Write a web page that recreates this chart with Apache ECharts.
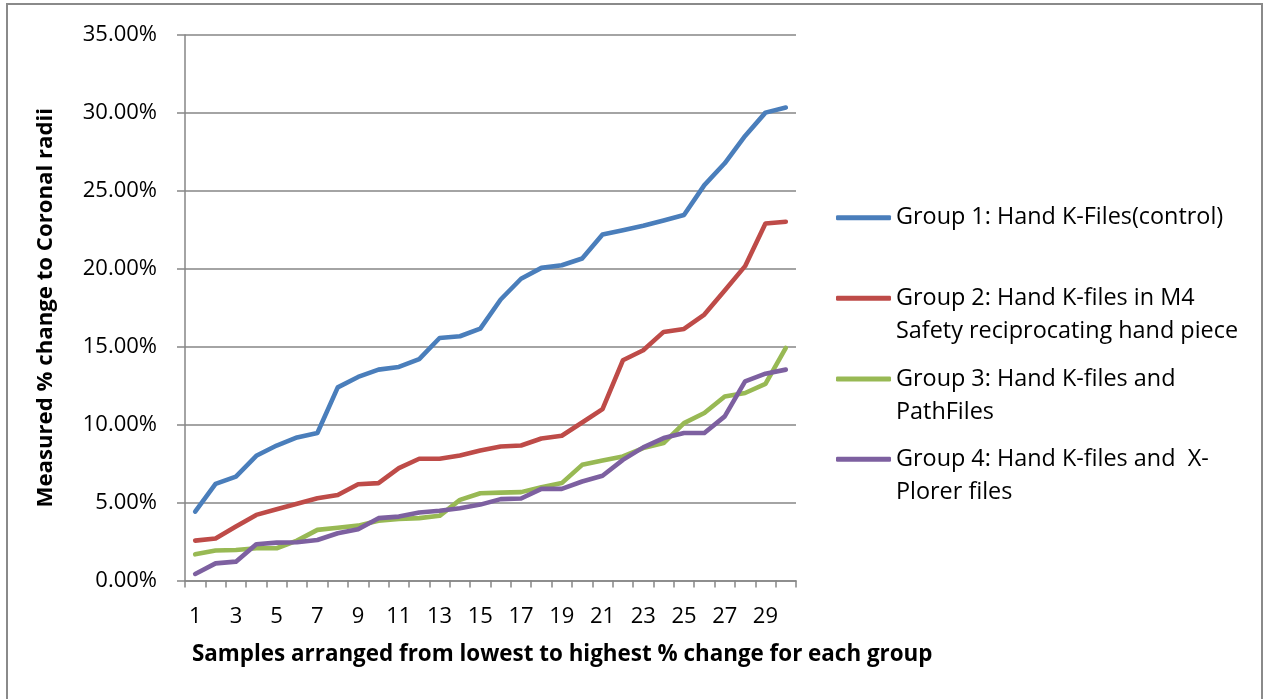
<!DOCTYPE html>
<html>
<head>
<meta charset="utf-8">
<script src="https://cdn.jsdelivr.net/npm/echarts@6/dist/echarts.min.js"></script>
<style>
  html, body { margin: 0; padding: 0; background: #fff; }
  #chart { width: 1263px; height: 699px; }
</style>
</head>
<body>
<div id="chart"></div>
<script>
// Sample index (samples sorted from lowest to highest change)
const categories = ['1','2','3','4','5','6','7','8','9','10','11','12','13','14','15',
  '16','17','18','19','20','21','22','23','24','25','26','27','28','29','30'];

// Measured % change to coronal radii, per group
const group1 = [4.42,6.20,6.67,8.00,8.66,9.18,9.46,12.39,13.06,13.53,13.70,14.21,15.56,15.67,16.16,
  18.03,19.36,20.06,20.23,20.66,22.20,22.48,22.76,23.10,23.45,25.37,26.77,28.52,30.02,30.35];
const group2 = [2.56,2.69,3.46,4.21,4.57,4.92,5.28,5.49,6.18,6.25,7.21,7.81,7.81,8.02,8.34,
  8.60,8.66,9.11,9.29,10.14,11.00,14.13,14.77,15.95,16.14,17.06,18.60,20.17,22.91,23.02];
const group3 = [1.68,1.92,1.96,2.07,2.07,2.56,3.25,3.39,3.52,3.84,3.95,4.00,4.15,5.17,5.60,
  5.64,5.67,5.99,6.25,7.42,7.70,7.96,8.50,8.82,10.10,10.75,11.81,12.03,12.61,14.92];
const group4 = [0.42,1.10,1.21,2.33,2.43,2.45,2.60,3.03,3.29,4.00,4.10,4.36,4.47,4.64,4.87,
  5.22,5.26,5.88,5.88,6.35,6.72,7.74,8.54,9.14,9.46,9.46,10.53,12.78,13.27,13.53];

const seriesNames = [
  'Group 1: Hand K-Files(control)',
  'Group 2: Hand K-files in M4 Safety reciprocating hand piece',
  'Group 3: Hand K-files and PathFiles',
  'Group 4: Hand K-files and  X-Plorer files'
];
// Legend text as wrapped lines
const legendLines = [
  ['Group 1: Hand K-Files(control)'],
  ['Group 2: Hand K-files in M4', 'Safety reciprocating hand piece'],
  ['Group 3: Hand K-files and', 'PathFiles'],
  ['Group 4: Hand K-files and  X-', 'Plorer files']
];
const seriesData = [group1, group2, group3, group4];
const colors = ['#4A7EBB', '#BE4B48', '#98B954', '#7D60A0'];

const FONT = '"Open Sans", "Liberation Sans", sans-serif';
const GRID_GRAY = '#868686';

// Legend anchors: vertical centre of each legend line icon
const legendIconY = [217.7, 298.3, 379, 459.3];
const LEGEND_LH = 33;

const chart = echarts.init(document.getElementById('chart'), null, { renderer: 'canvas' });

const legends = seriesNames.map((name, i) => {
  const lines = legendLines[i];
  // multi-line entries get a leading blank line so the icon sits beside the first line
  const text = lines.length > 1 ? '\n' + lines.join('\n') : lines[0];
  const nLines = lines.length > 1 ? 3 : 1;
  return {
    data: [name],
    orient: 'vertical',
    left: 836,
    top: legendIconY[i] - nLines * LEGEND_LH / 2,
    padding: 0,
    icon: 'roundRect',
    itemWidth: 55,
    itemHeight: 5,
    selectedMode: false,
    formatter: () => text,
    textStyle: { fontFamily: FONT, fontSize: 23.4, lineHeight: LEGEND_LH, color: '#000' }
  };
});

const option = {
  animation: false,
  backgroundColor: '#fff',
  color: colors,
  grid: { left: 185, right: 467, top: 35, bottom: 118.5, containLabel: false },
  legend: legends,
  title: {
    text: 'Samples arranged from lowest to highest % change for each group',
    left: 192,
    top: 644,
    padding: 0,
    textStyle: { fontFamily: FONT, fontSize: 22.4, fontWeight: 'bold', color: '#000' }
  },
  xAxis: {
    type: 'category',
    data: categories,
    boundaryGap: true,
    axisLine: { lineStyle: { color: GRID_GRAY, width: 1.5 } },
    axisTick: { show: true, length: 7, interval: 0, lineStyle: { color: GRID_GRAY, width: 1.5 } },
    axisLabel: { interval: 1, margin: 25, fontFamily: FONT, fontSize: 22, color: '#000' },
    splitLine: { show: false }
  },
  yAxis: {
    type: 'value',
    min: 0,
    max: 35,
    interval: 5,
    name: 'Measured % change to Coronal radii',
    nameLocation: 'middle',
    nameGap: 128,
    nameRotate: 90,
    nameTextStyle: { fontFamily: FONT, fontSize: 22.2, fontWeight: 'bold', color: '#000' },
    axisLine: { show: true, lineStyle: { color: GRID_GRAY, width: 1.5 } },
    axisTick: { show: true, length: 8, lineStyle: { color: GRID_GRAY, width: 1.5 } },
    axisLabel: {
      margin: 28,
      fontFamily: FONT,
      fontSize: 22,
      color: '#000',
      formatter: v => v.toFixed(2) + '%'
    },
    splitLine: { show: true, lineStyle: { color: GRID_GRAY, width: 1.5 } }
  },
  series: seriesNames.map((name, i) => ({
    name: name,
    type: 'line',
    data: seriesData[i],
    symbol: 'none',
    smooth: false,
    lineStyle: { width: 4.6, color: colors[i], cap: 'round', join: 'round' },
    itemStyle: { color: colors[i] }
  })),
  graphic: [{
    type: 'rect',
    shape: { x: 7, y: 4, width: 1255, height: 705 },
    style: { fill: 'none', stroke: '#8A8A8A', lineWidth: 2 },
    silent: true
  }]
};

chart.setOption(option);
</script>
</body>
</html>
